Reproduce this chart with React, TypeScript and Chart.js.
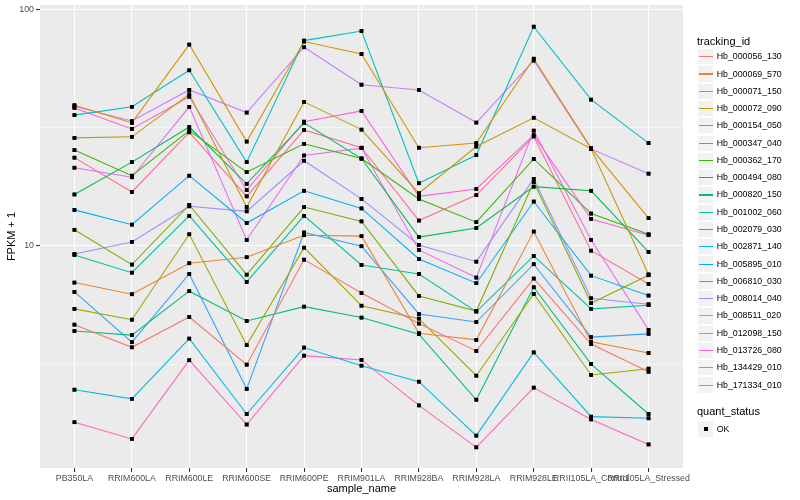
import React, { useEffect, useRef } from "react";
import { Chart, registerables } from "chart.js";

Chart.register(...registerables);

const sampleNames = [
  "PB350LA", "RRIM600LA", "RRIM600LE", "RRIM600SE", "RRIM600PE", "RRIM901LA",
  "RRIM928BA", "RRIM928LA", "RRIM928LE", "RRII105LA_Control", "RRII105LA_Stressed",
];

const trackingIds = [
  "Hb_000056_130", "Hb_000069_570", "Hb_000071_150", "Hb_000072_090", "Hb_000154_050",
  "Hb_000347_040", "Hb_000362_170", "Hb_000494_080", "Hb_000820_150", "Hb_001002_060",
  "Hb_002079_030", "Hb_002871_140", "Hb_005895_010", "Hb_006810_030", "Hb_008014_040",
  "Hb_008511_020", "Hb_012098_150", "Hb_013726_080", "Hb_134429_010", "Hb_171334_010",
];

const seriesColors = [
  "#F8766D", "#EA8331", "#D89000", "#C09B00", "#A3A500", "#7CAE00", "#39B600", "#00BB4E",
  "#00BF7D", "#00C1A3", "#00BFC4", "#00BAE0", "#00B0F6", "#35A2FF", "#9590FF", "#C77CFF",
  "#E76BF3", "#FA62DB", "#FF62BC", "#FF6C91",
];

// FPKM + 1 per sample (same order as sampleNames)
const hb_000056_130 = [4.65, 3.73, 5.01, 3.15, 8.75, 6.33, 4.70, 3.60, 7.28, 3.85, 2.94];
const hb_000069_570 = [7.00, 6.25, 8.45, 8.96, 11.1, 11.0, 4.28, 4.01, 11.5, 3.94, 3.53];
const hb_000071_150 = [39.3, 33.1, 70.9, 27.6, 73.0, 64.7, 26.0, 27.2, 61.8, 25.9, 13.1];
const hb_000072_090 = [28.6, 28.9, 43.7, 14.6, 40.6, 31.0, 16.7, 26.3, 34.8, 25.7, 7.58];
const hb_000154_050 = [5.42, 4.88, 11.2, 3.81, 9.83, 5.59, 4.93, 2.83, 6.27, 2.85, 3.03];
const hb_000347_040 = [11.7, 8.34, 14.9, 7.56, 14.6, 12.7, 6.15, 5.31, 18.6, 5.73, 7.52];
const hb_000362_170 = [25.4, 19.8, 30.7, 20.5, 27.0, 23.4, 15.8, 12.6, 23.3, 13.7, 11.2];
const hb_000494_080 = [16.5, 22.6, 31.8, 18.3, 33.1, 23.4, 10.9, 11.9, 17.8, 17.1, 9.43];
const hb_000820_150 = [4.37, 4.20, 6.44, 4.82, 5.54, 4.98, 4.24, 2.24, 6.69, 3.17, 1.95];
const hb_001002_060 = [9.16, 7.71, 13.4, 7.05, 13.4, 8.31, 7.61, 5.28, 9.07, 5.42, 5.62];
const hb_002079_030 = [35.7, 38.7, 55.2, 22.6, 73.7, 80.9, 18.4, 24.2, 84.4, 41.5, 27.2];
const hb_002871_140 = [2.47, 2.26, 4.06, 1.95, 3.72, 3.12, 2.67, 1.58, 3.55, 1.90, 1.87];
const hb_005895_010 = [14.2, 12.3, 19.8, 12.5, 17.1, 14.4, 8.81, 6.96, 15.4, 7.49, 6.17];
const hb_006810_030 = [6.39, 3.92, 7.61, 2.49, 11.4, 9.97, 5.16, 4.77, 8.37, 4.12, 4.25];
const hb_008014_040 = [9.25, 10.4, 14.7, 14.0, 22.9, 15.8, 10.1, 8.58, 19.2, 6.01, 5.67];
const hb_008511_020 = [38.9, 33.7, 45.6, 36.6, 69.1, 48.0, 45.6, 33.2, 60.7, 25.7, 20.2];
const hb_012098_150 = [21.4, 19.5, 38.7, 10.6, 24.1, 25.9, 9.62, 7.35, 30.7, 10.6, 4.42];
const hb_013726_080 = [38.3, 31.2, 42.7, 17.2, 33.5, 37.2, 16.2, 17.4, 29.4, 13.0, 11.1];
const hb_134429_010 = [1.80, 1.53, 3.29, 1.76, 3.44, 3.30, 2.12, 1.41, 2.52, 1.85, 1.45];
const hb_171334_010 = [23.6, 16.9, 30.2, 16.2, 30.9, 26.0, 12.8, 16.4, 29.0, 9.55, 6.91];

const seriesValues = [
  hb_000056_130, hb_000069_570, hb_000071_150, hb_000072_090, hb_000154_050,
  hb_000347_040, hb_000362_170, hb_000494_080, hb_000820_150, hb_001002_060,
  hb_002079_030, hb_002871_140, hb_005895_010, hb_006810_030, hb_008014_040,
  hb_008511_020, hb_012098_150, hb_013726_080, hb_134429_010, hb_171334_010,
];

const yTickValues = [3.16228, 10, 31.6228, 100];
const yTickLabels = ["", "10", "", "100"];
const yMajor = [false, true, false, true];

const FONT = "'Liberation Sans', Arial, Helvetica, sans-serif";

const panelBg = {
  id: "panelBg",
  beforeDraw(chart: any) {
    const { ctx, chartArea: a } = chart;
    ctx.save();
    ctx.fillStyle = "#EBEBEB";
    ctx.fillRect(a.left, a.top, a.right - a.left, a.bottom - a.top);
    ctx.restore();
  },
};

const pointsOnTop = {
  id: "pointsOnTop",
  afterDatasetsDraw(chart: any) {
    const ctx = chart.ctx;
    const area = chart.chartArea;
    chart.data.datasets.forEach((_: any, i: number) => {
      const meta = chart.getDatasetMeta(i);
      meta.data.forEach((el: any) => el.draw(ctx, area));
    });
  },
};

function idxOfTick(v: number) {
  for (let i = 0; i < yTickValues.length; i++) {
    if (Math.abs(yTickValues[i] - v) < 1e-3 * yTickValues[i]) return i;
  }
  return -1;
}

export default function App() {
  const canvasRef = useRef<HTMLCanvasElement | null>(null);

  useEffect(() => {
    document.body.style.margin = "0";
    const canvas = canvasRef.current;
    if (!canvas) return;
    const datasets = seriesValues.map((vals, s) => ({
      label: trackingIds[s],
      data: vals.map((v, i) => ({ x: i, y: v })),
      borderColor: seriesColors[s],
      backgroundColor: seriesColors[s],
      borderWidth: 1.07,
      tension: 0,
      fill: false,
      pointStyle: "rect" as const,
      pointRadius: 2.6,
      pointBorderWidth: 0,
      pointBackgroundColor: "#000000",
      pointBorderColor: "#000000",
      pointHoverRadius: 2.6,
    }));

    const chart = new Chart(canvas, {
      type: "line",
      data: { datasets },
      options: {
        animation: false,
        responsive: false,
        maintainAspectRatio: false,
        events: [],
        layout: { padding: { left: 0, top: 5, right: 117, bottom: 0 } },
        plugins: {
          legend: { display: false },
          tooltip: { enabled: false },
        },
        scales: {
          x: {
            type: "linear",
            min: -0.6,
            max: 10.6,
            afterBuildTicks: (s: any) => {
              s.ticks = sampleNames.map((_, i) => ({ value: i }));
            },
            afterFit: (s: any) => {
              s.height = 32;
              s.paddingLeft = 0;
              s.paddingRight = 0;
            },
            ticks: {
              autoSkip: false,
              maxRotation: 0,
              minRotation: 0,
              padding: 1,
              color: "#4D4D4D",
              font: { family: FONT, size: 8.8 },
              callback: (v: any) => sampleNames[Math.round(Number(v))] ?? "",
            },
            grid: {
              color: "#FFFFFF",
              lineWidth: 1.07,
              tickLength: 4,
              tickColor: "#333333",
              tickWidth: 1.07,
            },
            border: { display: false },
            title: {
              display: true,
              text: "sample_name",
              color: "#000000",
              font: { family: FONT, size: 11 },
              padding: { top: 0, bottom: 4 },
            },
          },
          y: {
            type: "logarithmic",
            min: 1.153,
            max: 104.2,
            afterBuildTicks: (s: any) => {
              s.ticks = yTickValues.map((v) => ({ value: v }));
            },
            afterFit: (s: any) => {
              s.width = 40;
              s.paddingTop = 0;
              s.paddingBottom = 0;
            },
            ticks: {
              autoSkip: false,
              padding: 2,
              color: "#4D4D4D",
              font: { family: FONT, size: 8.8 },
              callback: (v: any) => {
                const k = idxOfTick(Number(v));
                return k >= 0 ? yTickLabels[k] : "";
              },
            },
            grid: {
              color: "#FFFFFF",
              lineWidth: (c: any) => {
                const k = c.tick ? idxOfTick(c.tick.value) : -1;
                return k >= 0 && yMajor[k] ? 1.07 : 0.53;
              },
              tickLength: 4,
              tickWidth: 1.07,
              tickColor: (c: any) => {
                const k = c.tick ? idxOfTick(c.tick.value) : -1;
                return k >= 0 && yMajor[k] ? "#333333" : "rgba(0,0,0,0)";
              },
            },
            border: { display: false },
            title: {
              display: true,
              text: "FPKM + 1",
              color: "#000000",
              font: { family: FONT, size: 11 },
              padding: { top: 5, bottom: 0 },
            },
          },
        },
      } as any,
      plugins: [panelBg, pointsOnTop],
    });
    return () => chart.destroy();
  }, []);

  const rowH = 17.28;
  const firstKeyTop = 48.1;
  const legendLeft = 697;
  const textLeft = 716.7;

  return (
    <div style={{ position: "absolute", left: 0, top: 0, width: 800, height: 500, background: "#FFFFFF", fontFamily: FONT }}>
      <canvas ref={canvasRef} width={800} height={500} style={{ position: "absolute", left: 0, top: 0, width: 800, height: 500 }} />
      <div style={{ position: "absolute", left: legendLeft, top: 34.5, fontSize: 11, lineHeight: "13px", color: "#000", whiteSpace: "nowrap" }}>
        tracking_id
      </div>
      {trackingIds.map((id, i) => {
        const top = firstKeyTop + i * rowH;
        return (
          <React.Fragment key={id}>
            <div style={{ position: "absolute", left: legendLeft, top, width: rowH, height: rowH, boxSizing: "border-box", background: "#F2F2F2", border: "1px solid #FFFFFF" }} />
            <div style={{ position: "absolute", left: legendLeft + 1.7, top: top + rowH / 2 - 0.55, width: rowH - 3.4, height: 1.1, background: seriesColors[i] }} />
            <div style={{ position: "absolute", left: textLeft, top: top + rowH / 2 - 5.5, fontSize: 8.8, lineHeight: "11px", color: "#000", whiteSpace: "nowrap" }}>
              {id}
            </div>
          </React.Fragment>
        );
      })}
      <div style={{ position: "absolute", left: legendLeft, top: 405.2, fontSize: 11, lineHeight: "13px", color: "#000", whiteSpace: "nowrap" }}>
        quant_status
      </div>
      <div style={{ position: "absolute", left: legendLeft, top: 420.4, width: rowH, height: rowH, boxSizing: "border-box", background: "#F2F2F2", border: "1px solid #FFFFFF" }} />
      <div style={{ position: "absolute", left: legendLeft + rowH / 2 - 1.9, top: 420.4 + rowH / 2 - 1.9, width: 3.8, height: 3.8, background: "#000" }} />
      <div style={{ position: "absolute", left: textLeft, top: 420.4 + rowH / 2 - 5.5, fontSize: 8.8, lineHeight: "11px", color: "#000", whiteSpace: "nowrap" }}>
        OK
      </div>
    </div>
  );
}
